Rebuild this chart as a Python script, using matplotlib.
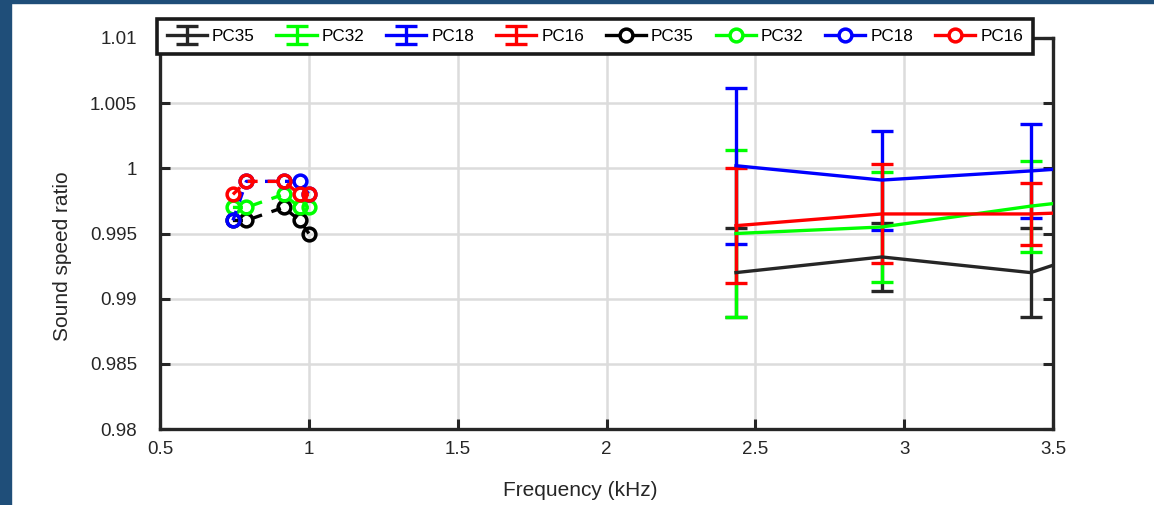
import matplotlib
matplotlib.use("Agg")
import matplotlib.pyplot as plt
from matplotlib.patches import Rectangle
from matplotlib.lines import Line2D

plt.rcParams['font.family'] = ['Liberation Sans', 'DejaVu Sans']

# ---- data ----
series_names = ['PC35', 'PC32', 'PC18', 'PC16']
series_colors = ['#262626', '#00ff00', '#0000ff', '#ff0000']
marker_colors = ['#000000', '#00ff00', '#0000ff', '#ff0000']

freq_high = [2.435, 2.925, 3.425, 3.93]
pc35_high = [0.9920, 0.9932, 0.9920, 0.9958]
pc32_high = [0.9950, 0.9955, 0.9971, 0.9984]
pc18_high = [1.0002, 0.9991, 0.9998, 1.0006]
pc16_high = [0.9956, 0.9965, 0.9965, 0.9969]
pc35_err = [0.0034, 0.0026, 0.0034, 0.0030]
pc32_err = [0.0064, 0.0042, 0.0035, 0.0040]
pc18_err = [0.0060, 0.0038, 0.0036, 0.0040]
pc16_err = [0.0044, 0.0038, 0.0024, 0.0030]

freq_low = [0.745, 0.79, 0.915, 0.97, 1.0]
pc35_low = [0.996, 0.996, 0.997, 0.996, 0.995]
pc32_low = [0.997, 0.997, 0.998, 0.997, 0.997]
pc18_low = [0.996, 0.999, 0.999, 0.999, 0.998]
pc16_low = [0.998, 0.999, 0.999, 0.998, 0.998]

x_ticks = [0.5, 1, 1.5, 2, 2.5, 3, 3.5]
x_ticklabels = ['0.5', '1', '1.5', '2', '2.5', '3', '3.5']
y_ticks = [0.98, 0.985, 0.99, 0.995, 1.0, 1.005, 1.01]
y_ticklabels = ['0.98', '0.985', '0.99', '0.995', '1', '1.005', '1.01']

highs = [pc35_high, pc32_high, pc18_high, pc16_high]
errs = [pc35_err, pc32_err, pc18_err, pc16_err]
lows = [pc35_low, pc32_low, pc18_low, pc16_low]

W, H = 1154, 505
fig = plt.figure(figsize=(W / 100, H / 100), dpi=100)
fig.patch.set_facecolor('white')
band = '#1f4e79'
fig.patches.append(Rectangle((0, 0), 11 / W, 1, transform=fig.transFigure, color=band, zorder=0))
fig.patches.append(Rectangle((0, 1 - 3 / H), 1, 3 / H, transform=fig.transFigure, color=band, zorder=0))

L, R, T, B = 160, 1053, 38, 429
ax = fig.add_axes([L / W, 1 - B / H, (R - L) / W, (B - T) / H])

text_color = '#262626'
handles = []
for name, c, y, e in zip(series_names, series_colors, highs, errs):
    h = ax.errorbar(freq_high, y, yerr=e, color=c, lw=2.4, elinewidth=2.4,
                    capsize=8, capthick=2.4, label=name, zorder=3)
    handles.append(h)
for name, c, y in zip(series_names, marker_colors, lows):
    ax.plot(freq_low, y, color=c, lw=2.4, ls=(0, (3.0, 3.0)), marker='o',
            markersize=9.2, markerfacecolor='none', markeredgewidth=2.5,
            label=name, zorder=4)
    proxy = Line2D([], [], color=c, lw=2.4, ls='-', marker='o', markersize=9.2,
                   markerfacecolor='white', markeredgewidth=2.5)
    handles.append(proxy)

ax.set_xlim(0.5, 3.5)
ax.set_ylim(0.98, 1.01)
ax.set_xticks(x_ticks)
ax.set_xticklabels(x_ticklabels)
ax.set_yticks(y_ticks)
ax.set_yticklabels(y_ticklabels)
ax.grid(True, color='#dcdcdc', lw=1.8, zorder=0)
ax.set_axisbelow(True)
for s in ax.spines.values():
    s.set_linewidth(2.4)
    s.set_color(text_color)
ax.tick_params(axis='both', direction='in', length=7, width=2.2, color=text_color,
               labelsize=13.5, labelcolor=text_color, top=True, right=True)
ax.tick_params(axis='y', pad=16.5)
ax.tick_params(axis='x', pad=9)

ax.set_xlabel('Frequency (kHz)', fontsize=15, color=text_color)
ax.set_ylabel('Sound speed ratio', fontsize=15, color=text_color)
ax.xaxis.set_label_coords((580 - L) / (R - L), -(490 - B) / (B - T))
ax.xaxis.label.set_va('center')
ax.yaxis.set_label_coords((62 - L) / (R - L), (B - 256) / (B - T))
ax.yaxis.label.set_va('center')

leg = fig.legend(handles=handles, labels=series_names * 2, ncol=8,
                 loc='center', bbox_to_anchor=(595 / W, 1 - 36.5 / H),
                 fontsize=12.3, frameon=True, fancybox=False, framealpha=1,
                 edgecolor='#1a1a1a', handlelength=2.35, handletextpad=0.3,
                 columnspacing=1.27, borderpad=0.58, borderaxespad=0)
leg.get_frame().set_linewidth(2.6)
for t in leg.get_texts():
    t.set_color('black')

fig.savefig('out.png', dpi=100, facecolor=fig.get_facecolor())
